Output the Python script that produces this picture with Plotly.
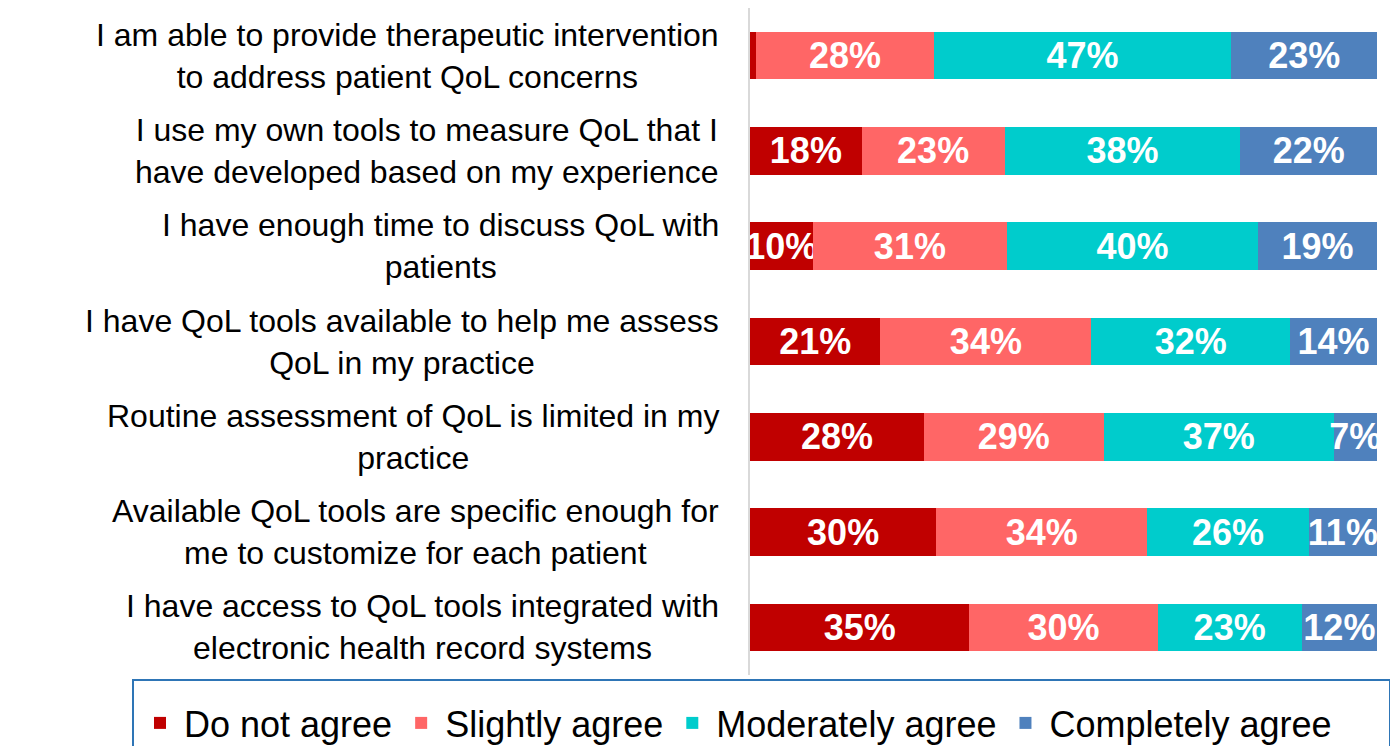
import plotly.graph_objects as go

# -----------------------------
# Data
# -----------------------------
statements = [
    "I am able to provide therapeutic intervention<br>to address patient QoL concerns",
    "I use my own tools to measure QoL that I<br>have developed based on my experience",
    "I have enough time to discuss QoL with<br>patients",
    "I have QoL tools available to help me assess<br>QoL in my practice",
    "Routine assessment of QoL is limited in my<br>practice",
    "Available QoL tools are specific enough for<br>me to customize for each patient",
    "I have access to QoL tools integrated with<br>electronic health record systems",
]

do_not_agree = [1, 18, 10, 21, 28, 30, 35]
slightly_agree = [28, 23, 31, 34, 29, 34, 30]
moderately_agree = [47, 38, 40, 32, 37, 26, 23]
completely_agree = [23, 22, 19, 14, 7, 11, 12]

series = [
    ("Do not agree", do_not_agree, "#C00000"),
    ("Slightly agree", slightly_agree, "#FF6666"),
    ("Moderately agree", moderately_agree, "#00CCCC"),
    ("Completely agree", completely_agree, "#4F81BD"),
]

FONT = "Liberation Sans, Arial, sans-serif"

# plot area in figure pixels (page has an 8px body margin)
W, H = 1390, 738
PL, PR, PB = 742, 1369, 667
PW, PH = PR - PL, PB

fig = go.Figure()
for name, vals, color in series:
    labels = [f"{v}%" if v >= 5 else "" for v in vals]
    fig.add_trace(go.Bar(
        y=statements,
        x=vals,
        name=name,
        orientation="h",
        marker=dict(color=color, line=dict(width=0)),
        text=labels,
        textposition="inside",
        insidetextanchor="middle",
        textangle=0,
        textfont=dict(family=FONT, size=36, color="white", weight="bold"),
        hoverinfo="skip",
    ))

# category labels, centred multi-line text left of the axis
for s in statements:
    fig.add_annotation(
        x=-29 / PW, xref="paper", xanchor="right",
        y=s, yref="y",
        text=s, showarrow=False, align="center",
        font=dict(family=FONT, size=32, color="black"),
    )

# legend frame
fig.add_shape(
    type="rect", xref="paper", yref="paper",
    x0=(125 - PL) / PW, x1=(1382 - PL) / PW,
    y0=(PB - 672) / PH, y1=(PB - 800) / PH,
    line=dict(color="#2E75B6", width=2),
)

fig.update_layout(
    width=W,
    height=H,
    barmode="stack",
    barnorm="percent",
    bargap=0.5,
    plot_bgcolor="white",
    paper_bgcolor="white",
    margin=dict(l=PL, r=W - PR, t=0, b=H - PB, autoexpand=False),
    uniformtext=dict(minsize=36, mode="show"),
    font=dict(family=FONT, color="black"),
    showlegend=True,
    legend=dict(
        orientation="h",
        x=(128 - PL) / PW, xanchor="left",
        y=(PB - 715) / PH, yanchor="middle",
        font=dict(family=FONT, size=36, color="black"),
        itemwidth=38,
        traceorder="normal",
        bgcolor="rgba(0,0,0,0)",
    ),
    xaxis=dict(range=[0, 100], visible=False, fixedrange=True),
    yaxis=dict(
        autorange="reversed",
        showticklabels=False,
        ticks="",
        showline=True,
        linecolor="#D9D9D9",
        linewidth=2,
        showgrid=False,
        zeroline=False,
    ),
)

fig.write_html("out.html")
